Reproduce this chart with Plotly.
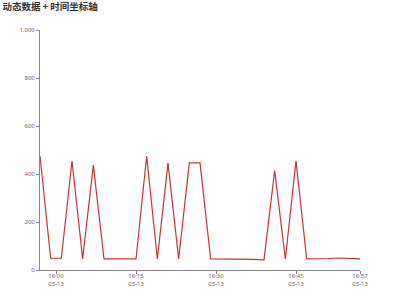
import plotly.graph_objects as go
import pandas as pd

times = pd.date_range("2024-03-13 15:57", "2024-03-13 16:57", freq="2min")
values = [475, 49, 49, 454, 46, 437, 46, 46, 46, 46,
          475, 46, 446, 46, 446, 446, 46, 46, 46, 45,
          44, 42, 414, 46, 455, 46, 46, 48, 50, 49, 46]
x_tickvals = ["2024-03-13 16:00", "2024-03-13 16:15", "2024-03-13 16:30",
              "2024-03-13 16:45", "2024-03-13 16:57"]
x_ticktext = ["16:00<br>03-13", "16:15<br>03-13", "16:30<br>03-13",
              "16:45<br>03-13", "16:57<br>03-13"]
y_tickvals = [0, 200, 400, 600, 800, 1000]

fig = go.Figure()
fig.add_trace(go.Scatter(x=times, y=values, mode="lines",
                         line=dict(color="#c23531", width=1.2),
                         hoverinfo="skip"))

fig.update_layout(
    width=400, height=300,
    margin=dict(l=40, r=40, t=30, b=30),
    paper_bgcolor="white", plot_bgcolor="white",
    showlegend=False,
    title=dict(text="<b>动态数据 + 时间坐标轴</b>", x=0.006, xanchor="left",
               y=0.977, yanchor="middle",
               font=dict(family="Noto Sans CJK SC", size=9.5, color="#333")),
    font=dict(family="Noto Sans", size=6, color="#666"),
)
fig.update_xaxes(
    range=[times[0], times[-1]],
    tickvals=x_tickvals, ticktext=x_ticktext,
    showgrid=False, zeroline=False, automargin=False,
    showline=True, linecolor="#888", linewidth=1,
    ticks="outside", ticklen=3, tickcolor="#888",
    ticklabelstandoff=-3,
    tickfont=dict(size=6, color="#666"),
)
fig.update_yaxes(
    range=[0, 1000],
    tickvals=y_tickvals, tickformat=",",
    showgrid=False, zeroline=False, automargin=False,
    showline=True, linecolor="#888", linewidth=1,
    ticks="outside", ticklen=3, tickcolor="#888",
    tickfont=dict(size=6, color="#666"),
)

fig.write_html("out.html")
